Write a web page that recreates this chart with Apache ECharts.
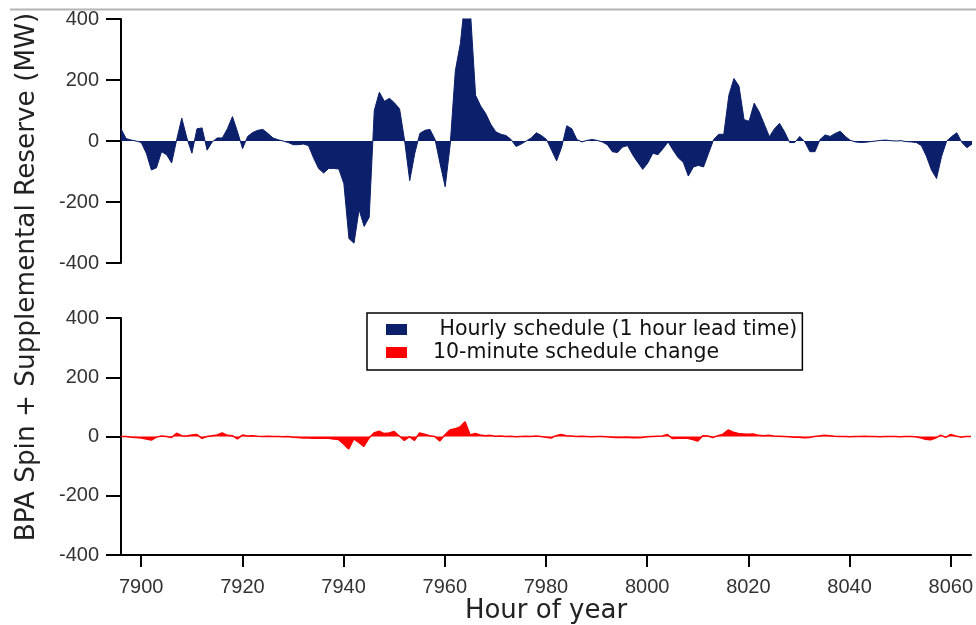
<!DOCTYPE html>
<html>
<head>
<meta charset="utf-8">
<script src="https://cdn.jsdelivr.net/npm/echarts@6/dist/echarts.min.js"></script>
<style>html,body{margin:0;padding:0;background:#fff}#c{width:976px;height:625px}</style>
</head>
<body>
<div id="c"></div>
<script>
const startHour = 7896;
const xTicks = [7900, 7920, 7940, 7960, 7980, 8000, 8020, 8040, 8060];
const yTicks = [-400, -200, 0, 200, 400];
const hourlyName = 'Hourly schedule (1 hour lead time)';
const tenMinName = '10-minute schedule change';
// hourly values, one per hour starting at 7896
const hourlyValues = [
  40, 8, 3, 0, -5, -40, -95, -88, -35, -45,
  -72, 5, 75, 10, -40, 40, 43, -30, -3, 10,
  10, 40, 80, 30, -25, 15, 28, 35, 38, 25,
  10, 4, 0, -5, -12, -12, -10, -15, -55, -90,
  -105, -90, -90, -92, -140, -320, -335, -225, -280, -250,
  100, 160, 130, 140, 125, 105, 0, -130, -40, 25,
  35, 38, 5, -75, -150, -10, 230, 320, 480, 420,
  150, 115, 90, 55, 30, 22, 18, 5, -18, -10,
  0, 10, 27, 18, 5, -30, -65, -20, 50, 40,
  5, -3, 2, 5, 2, -3, -12, -35, -38, -20,
  -15, -45, -70, -93, -72, -40, -45, -25, -3, -30,
  -55, -70, -115, -85, -80, -85, -40, 5, 22, 22,
  150, 205, 180, 70, 65, 124, 95, 55, 14, 40,
  58, 30, -5, -5, 15, -3, -35, -35, 5, 20,
  15, 25, 32, 15, 2, -3, -5, -4, -2, 0,
  2, 3, 1, 0, 1, -2, -3, -5, -15, -50,
  -95, -123, -50, 0, 15, 27, -5, -22, -10
];
const tenMinValues = [
  0, 0, -2, -3, -5, -8, -12, -2, 2, 0,
  -3, 11, 3, 2, 5, 7, -6, 0, 3, 5,
  12, 4, 3, -8, 5, 2, 3, 1, 0, 1,
  0, 0, -1, 0, -2, -3, -5, -5, -6, -5,
  -6, -6, -8, -10, -25, -42, -8, -20, -33, -5,
  12, 18, 10, 12, 17, 2, -13, 0, -13, 12,
  8, 3, 0, -15, 5, 22, 26, 32, 50, 5,
  10, 5, 3, 4, 1, 2, 0, 1, -1, 0,
  1, 0, 2, 0, -2, -5, 3, 7, 3, 2,
  0, 1, 0, -1, 0, 0, -1, -2, -3, -3,
  -2, -4, -4, -3, -1, 0, 1, 2, 7, -7,
  -6, -5, -6, -10, -15, 3, 2, -3, 3, 8,
  22, 15, 10, 9, 8, 9, 4, 3, 4, 2,
  1, 0, -1, -2, -2, -4, -3, 0, 2, 4,
  3, 1, 0, 0, -1, 0, 0, 1, 0, 0,
  -1, 0, 0, 0, -1, 0, 0, -1, -4, -9,
  -11, -5, 5, -3, 7, 2, -2, 0, 0
];

const navy = '#0b1f6a';
const red = '#ff0000';
const toPairs = arr => arr.map((v, i) => [startHour + i, v]);

const tickFont = {fontSize: 20, fontFamily: 'Liberation Sans', color: '#333'};
function yAxisFor(grid) {
  return {
    gridIndex: grid, type: 'value', min: -400, max: 400, interval: 200,
    axisLine: {show: true, onZero: false, lineStyle: {color: '#000', width: 2}},
    axisTick: {show: true, length: 15, lineStyle: {color: '#000', width: 2}},
    axisLabel: Object.assign({margin: 22, formatter: v => String(v)}, tickFont),
    splitLine: {show: false}
  };
}

const chart = echarts.init(document.getElementById('c'), null, {renderer: 'canvas'});
chart.setOption({
  animation: false,
  backgroundColor: '#fff',
  grid: [
    {left: 121, right: 4, top: 19, height: 244},
    {left: 121, right: 4, top: 318, height: 243}
  ],
  xAxis: [
    {gridIndex: 0, type: 'value', min: 7896, max: 8064, show: false},
    {
      gridIndex: 1, type: 'value', min: 7896, max: 8064,
      axisLine: {show: true, onZero: false, lineStyle: {color: '#000', width: 2}},
      axisTick: {show: true, customValues: xTicks, length: 12, lineStyle: {color: '#000', width: 2}},
      axisLabel: Object.assign({customValues: xTicks, margin: 22, formatter: v => String(v)}, tickFont),
      splitLine: {show: false},
      name: 'Hour of year', nameLocation: 'middle', nameGap: 36,
      nameTextStyle: {fontSize: 26, fontFamily: 'DejaVu Sans', color: '#222'}
    }
  ],
  yAxis: [yAxisFor(0), yAxisFor(1)],
  legend: {
    orient: 'vertical', left: 367, top: 313,
    padding: [6, 5, 7, 19], itemGap: 2,
    itemWidth: 21, itemHeight: 11, icon: 'rect',
    borderColor: '#000', borderWidth: 1.5,
    data: [hourlyName, tenMinName],
    formatter: n => n === hourlyName ? ' ' + n : n,
    textStyle: {fontSize: 20.5, fontFamily: 'DejaVu Sans', color: '#111', padding: [0, 0, 0, 21]}
  },
  graphic: [
    {type: 'line', shape: {x1: 10, y1: 9.5, x2: 976, y2: 9.5}, style: {stroke: '#b4b4b4', lineWidth: 2}},
    {
      type: 'text', x: 27, y: 277, rotation: Math.PI / 2,
      style: {text: 'BPA Spin + Supplemental Reserve (MW)', fontSize: 26.3, fontFamily: 'DejaVu Sans',
        fill: '#222', align: 'center', verticalAlign: 'middle'}
    }
  ],
  series: [
    {
      name: hourlyName, type: 'line', xAxisIndex: 0, yAxisIndex: 0,
      data: toPairs(hourlyValues), symbol: 'none',
      itemStyle: {color: navy},
      lineStyle: {color: navy, width: 1},
      areaStyle: {color: navy, opacity: 1}
    },
    {
      name: tenMinName, type: 'line', xAxisIndex: 1, yAxisIndex: 1,
      data: toPairs(tenMinValues), symbol: 'none',
      itemStyle: {color: red},
      lineStyle: {color: red, width: 1.5},
      areaStyle: {color: red, opacity: 1}
    }
  ]
});
</script>
</body>
</html>
